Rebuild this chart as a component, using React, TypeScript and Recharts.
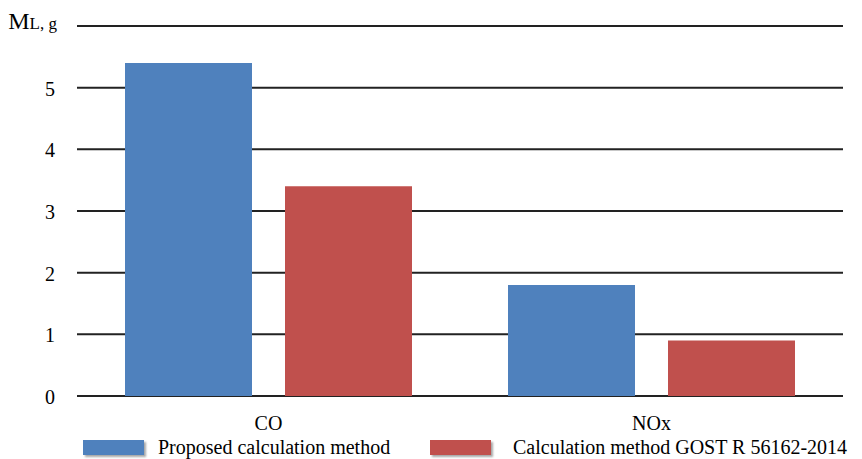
import React from "react";
import { BarChart, Bar, XAxis, YAxis, CartesianGrid, Legend } from "recharts";

// Pollutant mass per category
const categories = ["CO", "NOx"];
const proposedValues = [5.4, 1.8];
const gostValues = [3.4, 0.9];
const yTicks = [0, 1, 2, 3, 4, 5, 6];

const SERIES = [
  { key: "proposed", name: "Proposed calculation method", color: "#4F81BD" },
  { key: "gost", name: "Calculation method GOST R 56162-2014", color: "#C0504D" },
];

const FONT = '"Liberation Serif", "Times New Roman", serif';

const data = categories.map((c, i) => ({
  category: c,
  proposed: proposedValues[i],
  gost: gostValues[i],
}));

function YTick({ x, y, payload }: any) {
  // the top tick carries the axis unit instead of a number
  if (payload.value === 6) {
    return (
      <text x={x + 2} y={y + 3} textAnchor="end" fontFamily={FONT} fill="#000">
        <tspan fontSize={24}>M</tspan>
        <tspan fontSize={17}>L, g</tspan>
      </text>
    );
  }
  return (
    <text x={x} y={y + 8} textAnchor="end" fontFamily={FONT} fontSize={20} fill="#000">
      {payload.value}
    </text>
  );
}

function XTick({ x, y, payload }: any) {
  return (
    <text x={x} y={y + 4} dy="0.71em" textAnchor="middle" fontFamily={FONT} fontSize={20} fill="#000">
      {payload.value}
    </text>
  );
}

function LegendContent() {
  const slots = [83, 430];
  return (
    <div style={{ position: "relative", width: 862, height: 24, fontFamily: FONT }}>
      {SERIES.map((s, i) => (
        <div key={s.key} style={{ position: "absolute", left: slots[i], top: 0, display: "flex", alignItems: "center", lineHeight: "22px" }}>
          <span
            style={{
              display: "inline-block",
              width: 61,
              height: 15,
              background: s.color,
              boxShadow: "2px 2px 2px rgba(0,0,0,0.35)",
              marginRight: 14 + i * 8,
            }}
          />
          <span style={{ fontFamily: FONT, fontSize: 20, color: "#000", whiteSpace: "nowrap" }}>
            {s.name}
          </span>
        </div>
      ))}
    </div>
  );
}

export default function App() {
  return (
    <div style={{ position: "absolute", left: 0, top: 0, background: "#fff" }}>
      <BarChart
        width={862}
        height={459}
        data={data}
        margin={{ top: 26, right: 19, left: 0, bottom: 33 }}
        barSize={127}
        barGap={33}
      >
        <CartesianGrid vertical={false} stroke="#222" strokeWidth={2} />
        <XAxis
          dataKey="category"
          axisLine={false}
          tickLine={false}
          height={30}
          tickMargin={10}
          tick={<XTick />}
        />
        <YAxis
          domain={[0, 6]}
          ticks={yTicks}
          width={77}
          axisLine={false}
          tickLine={false}
          tickSize={0}
          tickMargin={22}
          interval={0}
          tick={<YTick />}
        />
        <Legend
          layout="vertical"
          align="center"
          verticalAlign="middle"
          content={<LegendContent />}
          wrapperStyle={{ left: 0, top: 436, width: 862 }}
        />
        {SERIES.map((s) => (
          <Bar key={s.key} dataKey={s.key} name={s.name} fill={s.color} isAnimationActive={false} />
        ))}
      </BarChart>
    </div>
  );
}
